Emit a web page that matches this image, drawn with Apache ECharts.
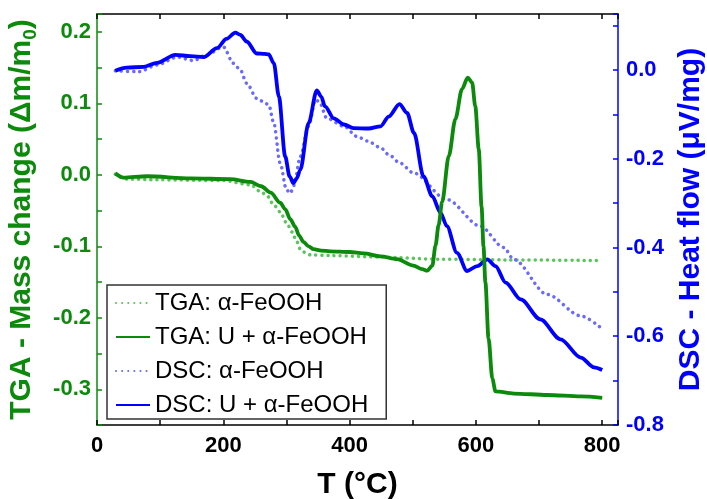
<!DOCTYPE html>
<html>
<head>
<meta charset="utf-8">
<script src="https://cdn.jsdelivr.net/npm/echarts@6/dist/echarts.min.js"></script>
<style>
html,body{margin:0;padding:0;background:#fff;}
#chart{width:707px;height:499px;}
</style>
</head>
<body>
<div id="chart"></div>
<script>
// ---- data (temperature in °C) ----
const tgaAlphaT = [29,47,95,200,243,260,269,280,290,300,309,316,322,330,338,369,449,540,650,800];
const tgaAlphaV = [0.001,-0.006,-0.007,-0.008,-0.014,-0.024,-0.029,-0.042,-0.052,-0.067,-0.080,-0.093,-0.104,-0.109,-0.112,-0.113,-0.115,-0.118,-0.119,-0.120];

const tgaUT = [29,42,79,148,211,243,260,275,290,298,306,314,320,327,335,343,355,369,400,422,449,475,501,515,523,531,536,541,546.5,557,567.5,578,587,594,599,604.5,609,612,615,620,626,631,660,713,766,800];
const tgaUV = [0.002,-0.004,-0.002,-0.005,-0.006,-0.010,-0.016,-0.025,-0.039,-0.048,-0.062,-0.073,-0.085,-0.094,-0.100,-0.104,-0.106,-0.107,-0.108,-0.110,-0.114,-0.118,-0.127,-0.132,-0.134,-0.127,-0.099,-0.070,-0.038,0.026,0.078,0.120,0.136,0.129,0.096,0.036,-0.045,-0.100,-0.150,-0.229,-0.285,-0.303,-0.306,-0.308,-0.310,-0.312];

const dscAlphaT = [29,66,95,127,153,174,200,216,227,237,253,264,272,280,290,300,306,312,322,335,346,352,364,391,412,428,449,462,480,501,554,607,644,660,713,766,797];
const dscAlphaV = [-0.002,-0.004,0.011,0.029,0.021,0.034,0.052,0.015,0.0,-0.030,-0.064,-0.072,-0.079,-0.120,-0.210,-0.270,-0.278,-0.260,-0.195,-0.127,-0.067,-0.072,-0.109,-0.127,-0.150,-0.160,-0.175,-0.191,-0.210,-0.232,-0.292,-0.352,-0.400,-0.427,-0.506,-0.554,-0.580];

const dscUT = [29,47,74,95,124,148,169,190,205,219,227,237,253,265,272,280,288,298,305,311,316,322,335,348,355,361,375,391,406,430,449,462,479,491,502,517,531,544,554,570,586,602,618,631,647,671,702,734,766,787,800];
const dscUV = [-0.002,0.005,0.007,0.016,0.034,0.031,0.029,0.049,0.070,0.084,0.079,0.064,0.037,0.036,0.035,0.015,-0.060,-0.195,-0.240,-0.255,-0.245,-0.225,-0.120,-0.046,-0.060,-0.082,-0.109,-0.123,-0.131,-0.132,-0.127,-0.105,-0.077,-0.097,-0.142,-0.240,-0.285,-0.322,-0.352,-0.412,-0.453,-0.442,-0.427,-0.442,-0.479,-0.517,-0.562,-0.607,-0.648,-0.670,-0.676];

const xTicks = [0,200,400,600,800];
const tgaTicks = [-0.3,-0.2,-0.1,0.0,0.1,0.2];
const dscTicks = [-0.8,-0.6,-0.4,-0.2,0.0];

const seriesNames = ['TGA: α-FeOOH','TGA: U + α-FeOOH','DSC: α-FeOOH','DSC: U + α-FeOOH'];

function zip(a,b){ return a.map((t,i)=>[t,b[i]]); }

const FONT = '"Liberation Sans", Arial, sans-serif';
const GREEN = '#0b8a0b';
const LGREEN = '#5cc45c';
const BLUE = '#0000ff';
const LBLUE = '#6a6aff';

function near(v, list){ return list.some(t=>Math.abs(t-v)<1e-6); }

const chart = echarts.init(document.getElementById('chart'), null, {renderer:'canvas'});
chart.setOption({
  animation:false,
  backgroundColor:'#fff',
  textStyle:{fontFamily:FONT},
  grid:{left:97, right:89, top:14, bottom:74, containLabel:false, outerBoundsMode:'none'},
  legend:{
    orient:'vertical', left:107, top:285,
    data:seriesNames,
    itemWidth:34, itemHeight:20, itemGap:10,
    padding:[6,18,2,8],
    borderColor:'#333', borderWidth:1.5, backgroundColor:'#fff',
    itemStyle:{opacity:0},
    textStyle:{fontFamily:FONT, fontSize:24, color:'#000'}
  },
  xAxis:[{
    type:'value', min:0, max:825, interval:100, position:'bottom',
    name:'T (°C)', nameLocation:'middle', nameGap:45,
    nameTextStyle:{fontFamily:FONT, fontSize:30, fontWeight:'bold', color:'#000'},
    axisLine:{onZero:false, lineStyle:{color:'#000', width:1.5}},
    axisTick:{inside:true, length:5, lineStyle:{color:'#000', width:1.5}},
    axisLabel:{margin:10, fontFamily:FONT, fontSize:22, fontWeight:'bold', color:'#000',
      formatter:v=>near(v,xTicks)?String(Math.round(v)):''},
    splitLine:{show:false}
  },{
    type:'value', min:0, max:825, interval:100, position:'top',
    axisLine:{onZero:false, lineStyle:{color:'#000', width:1.5}},
    axisTick:{inside:true, length:5, lineStyle:{color:'#000', width:1.5}},
    axisLabel:{show:false}, splitLine:{show:false}
  }],
  yAxis:[{
    type:'value', min:-0.35, max:0.225, interval:0.05, position:'left',
    name:'TGA - Mass change (Δm/m{sub|0})', nameLocation:'middle', nameGap:57,
    nameTextStyle:{fontFamily:FONT, fontSize:30, fontWeight:'bold', color:GREEN, lineHeight:36,
      rich:{sub:{fontFamily:FONT, fontSize:19, fontWeight:'bold', color:GREEN, verticalAlign:'bottom', lineHeight:19}}},
    axisLine:{show:true, onZero:false, lineStyle:{color:GREEN, width:1.5}},
    axisTick:{inside:true, length:5, lineStyle:{color:GREEN, width:1.5}},
    axisLabel:{margin:6, fontFamily:FONT, fontSize:22, fontWeight:'bold', color:GREEN,
      formatter:v=>near(v,tgaTicks)?(Math.abs(v)<1e-9?'0.0':v.toFixed(1)):''},
    splitLine:{show:false}
  },{
    type:'value', min:-0.8, max:0.126, interval:0.1, position:'right',
    name:'DSC - Heat flow (μV/mg)', nameLocation:'middle', nameGap:58,
    nameTextStyle:{fontFamily:FONT, fontSize:30, fontWeight:'bold', color:BLUE},
    axisLine:{show:true, onZero:false, lineStyle:{color:BLUE, width:1.5}},
    axisTick:{inside:true, length:5, lineStyle:{color:BLUE, width:1.5}},
    axisLabel:{margin:8, fontFamily:FONT, fontSize:22, fontWeight:'bold', color:BLUE,
      formatter:v=>near(v,dscTicks)?(Math.abs(v)<1e-9?'0.0':v.toFixed(1)):''},
    splitLine:{show:false}
  }],
  series:[
    {name:seriesNames[0], type:'line', xAxisIndex:0, yAxisIndex:0, data:zip(tgaAlphaT,tgaAlphaV),
      showSymbol:false, symbol:'none', smooth:0.3, smoothMonotone:'x', color:LGREEN,
      lineStyle:{color:LGREEN, width:3.5, type:[0.1,6], cap:'round'}, z:2},
    {name:seriesNames[1], type:'line', xAxisIndex:0, yAxisIndex:0, data:zip(tgaUT,tgaUV),
      showSymbol:false, symbol:'none', smooth:0.3, smoothMonotone:'x', color:GREEN,
      lineStyle:{color:GREEN, width:3.8}, z:4},
    {name:seriesNames[2], type:'line', xAxisIndex:0, yAxisIndex:1, data:zip(dscAlphaT,dscAlphaV),
      showSymbol:false, symbol:'none', smooth:0.3, smoothMonotone:'x', color:LBLUE,
      lineStyle:{color:LBLUE, width:3.5, type:[0.1,6], cap:'round'}, z:2},
    {name:seriesNames[3], type:'line', xAxisIndex:0, yAxisIndex:1, data:zip(dscUT,dscUV),
      showSymbol:false, symbol:'none', smooth:0.3, smoothMonotone:'x', color:BLUE,
      lineStyle:{color:BLUE, width:3.8}, z:3}
  ]
});
</script>
</body>
</html>
